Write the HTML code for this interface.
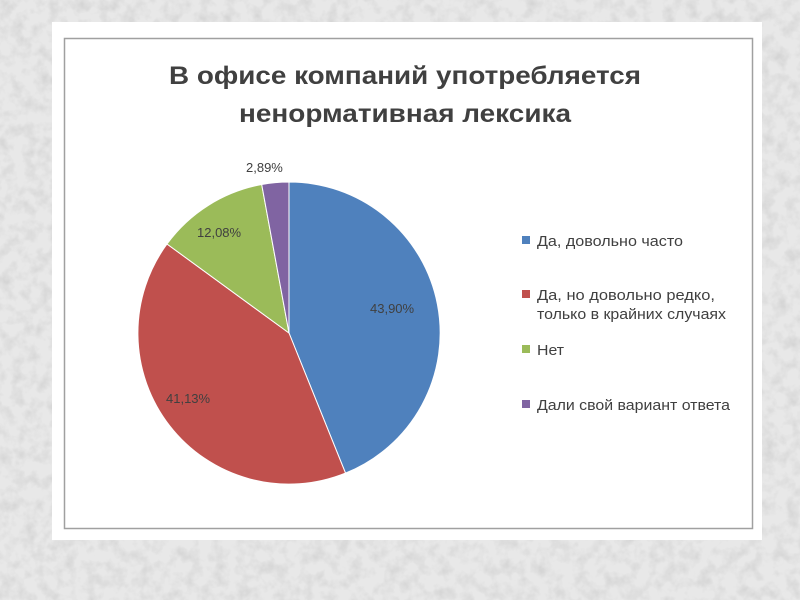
<!DOCTYPE html>
<html><head><meta charset="utf-8"><style>
html,body{margin:0;padding:0;width:800px;height:600px;overflow:hidden;background:#e3e3e3}
</style></head><body>
<svg width="800" height="600" xmlns="http://www.w3.org/2000/svg" font-family="'Liberation Sans','DejaVu Sans',sans-serif">
<defs>
<filter id="n" x="0" y="0" width="100%" height="100%">
<feTurbulence type="fractalNoise" baseFrequency="0.08" numOctaves="3" seed="4"/>
<feColorMatrix type="matrix" values="0 0 0 0 0.55  0 0 0 0 0.55  0 0 0 0 0.55  0 0 0 -2.2 1.3"/>
</filter>
</defs>
<rect width="800" height="600" fill="#e8e8e8"/>
<rect width="800" height="600" filter="url(#n)" opacity="0.5"/>
<rect x="52" y="22" width="710" height="518" fill="#fff"/>
<rect x="64.5" y="38.5" width="688" height="490" fill="#fff" stroke="#a0a0a0" stroke-width="1.5"/>
<g font-weight="bold" fill="#404040" font-size="25" text-anchor="middle">
<text x="405" y="84" textLength="472" lengthAdjust="spacingAndGlyphs">В офисе компаний употребляется</text>
<text x="405" y="122" textLength="332" lengthAdjust="spacingAndGlyphs">ненормативная лексика</text>
</g>
<g stroke="#fff" stroke-width="1">
<path d="M289,333 L289,182 A151,151 0 0 1 345.5,473.1 Z" fill="#4f81bd"/>
<path d="M289,333 L345.5,473.1 A151,151 0 0 1 167,244 Z" fill="#c0504d"/>
<path d="M289,333 L167,244 A151,151 0 0 1 261.7,184.5 Z" fill="#9bbb59"/>
<path d="M289,333 L261.7,184.5 A151,151 0 0 1 289,182 Z" fill="#8064a2"/>
</g>
<g font-size="13" fill="#404040">
<text x="370" y="313">43,90%</text>
<text x="166" y="403">41,13%</text>
<text x="197" y="237">12,08%</text>
<text x="246" y="172">2,89%</text>
</g>
<g font-size="15" fill="#404040" lengthAdjust="spacingAndGlyphs">
<rect x="522" y="236" width="8" height="8" fill="#4f81bd"/>
<text x="537" y="246" textLength="146" lengthAdjust="spacingAndGlyphs">Да, довольно часто</text>
<rect x="522" y="290" width="8" height="8" fill="#c0504d"/>
<text x="537" y="300" textLength="178" lengthAdjust="spacingAndGlyphs">Да, но довольно редко,</text>
<text x="537" y="319" textLength="189" lengthAdjust="spacingAndGlyphs">только в крайних случаях</text>
<rect x="522" y="345" width="8" height="8" fill="#9bbb59"/>
<text x="537" y="355" textLength="27" lengthAdjust="spacingAndGlyphs">Нет</text>
<rect x="522" y="400" width="8" height="8" fill="#8064a2"/>
<text x="537" y="410" textLength="193" lengthAdjust="spacingAndGlyphs">Дали свой вариант ответа</text>
</g>
</svg>
</body></html>
